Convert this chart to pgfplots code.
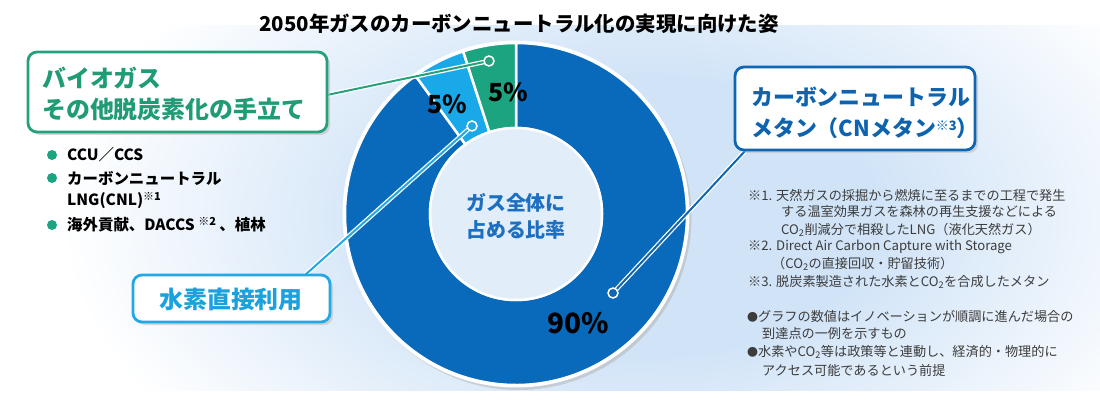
\documentclass[border=0pt]{standalone}
\usepackage{fontspec}
\setmainfont{Noto Sans CJK JP}
\usepackage{pgfplots}
\pgfplotsset{compat=1.18}
\usepackage{pgfplotstable}
\usetikzlibrary{calc}

\definecolor{cnblue}{HTML}{0969BA}
\definecolor{h2blue}{HTML}{19A9E8}
\definecolor{biogreen}{HTML}{1BA47F}
\definecolor{gbox}{HTML}{25A17B}
\definecolor{gtext}{HTML}{1F9C76}
\definecolor{bbox}{HTML}{0F66B2}
\definecolor{btext}{HTML}{0E63AF}
\definecolor{lbox}{HTML}{22A9E3}
\definecolor{ltext}{HTML}{1BA1DD}
\definecolor{ctext}{HTML}{1D6FC1}
\definecolor{bgblue}{HTML}{D0E3F7}
\definecolor{holec}{HTML}{E2EDFA}
\definecolor{notec}{HTML}{3C3C3C}

\pgfdeclareradialshading{bgrad}{\pgfpoint{0bp}{0bp}}{color(0bp)=(bgblue); color(10bp)=(bgblue); color(25bp)=(white); color(50bp)=(white)}

% shares of the total gas supply in 2050 (%)
\pgfplotstableread{
seg share
CN  90
H2  5
Bio 5
}\sharetable
\pgfplotstablegetelem{0}{share}\of\sharetable \let\sCN\pgfplotsretval
\pgfplotstablegetelem{1}{share}\of\sharetable \let\sH\pgfplotsretval
\pgfplotstablegetelem{2}{share}\of\sharetable \let\sBio\pgfplotsretval
\pgfmathsetmacro\aA{90}
\pgfmathsetmacro\aB{\aA+3.6*\sBio}
\pgfmathsetmacro\aC{\aB+3.6*\sH}
\pgfmathsetmacro\aD{\aC+3.6*\sCN}

\newcommand\donutwedge[3]{%
  \fill[#3,draw=white,line width=2.5bp] (axis cs:516,202) ++(#1:171bp)
    arc[start angle=#1,end angle=#2,radius=171bp]
    -- ($(axis cs:516,202)+(#2:86bp)$)
    arc[start angle=#2,end angle=#1,radius=86bp] -- cycle;}
\newcommand\fs[1]{\fontsize{#1}{#1}\selectfont}

\begin{document}
\begin{tikzpicture}
\begin{axis}[width=1100bp,height=416bp,scale only axis,
  xmin=0,xmax=1100,ymin=0,ymax=416,hide axis,clip=false]
% background
\fill[white] (axis cs:0,0) rectangle (axis cs:1100,416);
\begin{scope}
\clip (axis cs:0,26) rectangle (axis cs:1100,390);
\shade[shading=bgrad] (axis cs:640,200) ellipse[x radius=580bp,y radius=340bp];
\end{scope}
% title
\node[font=\fs{20.5}\bfseries,text=black,inner sep=0] at (axis cs:519,392) {2050年ガスのカーボンニュートラル化の実現に向けた姿};
% donut
\fill[black!30,opacity=0.5] (axis cs:518.5,199) circle[radius=173bp];
\fill[white] (axis cs:516,202) circle[radius=173.5bp];
\donutwedge{\aC}{\aD}{cnblue}
\donutwedge{\aB}{\aC}{h2blue}
\donutwedge{\aA}{\aB}{biogreen}
\fill[holec,draw=white,line width=2.5bp] (axis cs:516,202) circle[radius=86bp];
\node[font=\fs{20}\bfseries,text=ctext,align=center,inner sep=0] at (axis cs:516,213) {ガス全体に};
\node[font=\fs{20}\bfseries,text=ctext,align=center,inner sep=0] at (axis cs:516,186) {占める比率};
% percentages
\node[font=\fs{25}\bfseries,text=black,inner sep=0] at (axis cs:508,324) {5\%};
\node[font=\fs{25}\bfseries,text=black,inner sep=0] at (axis cs:447,312) {5\%};
\node[font=\fs{28}\bfseries,text=black,inner sep=0] at (axis cs:578,93) {90\%};
% connector lines
\draw[white,line width=4.5bp] (axis cs:327,321) -- (axis cs:489,355);
\draw[gbox,line width=2bp] (axis cs:327,321) -- (axis cs:489,355);
\fill[gbox,draw=white,line width=1.5bp] (axis cs:489,355) circle[radius=5bp];
\draw[white,line width=4.5bp] (axis cs:305,141) -- (axis cs:472,290);
\draw[lbox,line width=2bp] (axis cs:305,141) -- (axis cs:472,290);
\fill[lbox,draw=white,line width=1.5bp] (axis cs:472,290) circle[radius=5bp];
\draw[white,line width=4.5bp] (axis cs:746,266) -- (axis cs:613,123);
\draw[bbox,line width=2bp] (axis cs:746,266) -- (axis cs:613,123);
\fill[bbox,draw=white,line width=1.5bp] (axis cs:613,123) circle[radius=5bp];
% green box
\fill[black!25,opacity=0.6,rounded corners=9bp] (axis cs:31,281) rectangle (axis cs:330,361);
\draw[gbox,line width=2.8bp,fill=white,rounded corners=9bp] (axis cs:28,284) rectangle (axis cs:327,364);
\node[anchor=west,inner sep=0,font=\fs{24}\bfseries,text=gtext] at (axis cs:42,338) {バイオガス};
\node[anchor=west,inner sep=0,font=\fs{24}\bfseries,text=gtext] at (axis cs:42,307) {その他脱炭素化の手立て};
% light blue box
\fill[black!25,opacity=0.6,rounded corners=9bp] (axis cs:136,91) rectangle (axis cs:333,138);
\draw[lbox,line width=2.8bp,fill=white,rounded corners=9bp] (axis cs:133,94) rectangle (axis cs:330,141);
\node[inner sep=0,font=\fs{24}\bfseries,text=ltext] at (axis cs:231,117) {水素直接利用};
% blue box
\fill[black!25,opacity=0.6,rounded corners=9bp] (axis cs:738,263) rectangle (axis cs:978,346);
\draw[bbox,line width=2.8bp,fill=white,rounded corners=9bp] (axis cs:735,266) rectangle (axis cs:975,349);
\node[anchor=west,inner sep=0,font=\fs{22}\bfseries,text=btext] at (axis cs:751,319) {カーボンニュートラル};
\node[anchor=west,inner sep=0,font=\fs{22}\bfseries,text=btext] at (axis cs:751,288) {メタン（CNメタン\raisebox{0.5ex}{\fs{13}※3}）};
% bullet list
\fill[biogreen] (axis cs:52,261) circle[radius=5bp];
\fill[biogreen] (axis cs:52,238) circle[radius=5bp];
\fill[biogreen] (axis cs:52,191) circle[radius=5bp];
\node[anchor=west,inner sep=0,font=\fs{15.5}\bfseries] at (axis cs:67,261) {CCU／CCS};
\node[anchor=west,inner sep=0,font=\fs{15.5}\bfseries] at (axis cs:67,238) {カーボンニュートラル};
\node[anchor=west,inner sep=0,font=\fs{15.5}\bfseries] at (axis cs:67,215) {LNG(CNL)\raisebox{0.6ex}{\fs{11}※1}};
\node[anchor=west,inner sep=0,font=\fs{15.5}\bfseries] at (axis cs:67,191) {海外貢献、DACCS \raisebox{0.6ex}{\fs{11}※2} 、植林};
% notes
\node[anchor=west,inner sep=0,font=\fs{13.2},text=notec] at (axis cs:748,221) {※1. 天然ガスの採掘から燃焼に至るまでの工程で発生};
\node[anchor=west,inner sep=0,font=\fs{13.2},text=notec] at (axis cs:781,204) {する温室効果ガスを森林の再生支援などによる};
\node[anchor=west,inner sep=0,font=\fs{13.2},text=notec] at (axis cs:781,186) {CO\textsubscript{2}削減分で相殺したLNG（液化天然ガス）};
\node[anchor=west,inner sep=0,font=\fs{13.2},text=notec] at (axis cs:748,169) {※2. Direct Air Carbon Capture with Storage};
\node[anchor=west,inner sep=0,font=\fs{13.2},text=notec] at (axis cs:772,152) {（CO\textsubscript{2}の直接回収・貯留技術）};
\node[anchor=west,inner sep=0,font=\fs{13.2},text=notec] at (axis cs:748,134) {※3. 脱炭素製造された水素とCO\textsubscript{2}を合成したメタン};
\node[anchor=west,inner sep=0,font=\fs{13.2},text=notec] at (axis cs:747,99) {{\fs{11}●}グラフの数値はイノベーションが順調に進んだ場合の};
\node[anchor=west,inner sep=0,font=\fs{13.2},text=notec] at (axis cs:762,82) {到達点の一例を示すもの};
\node[anchor=west,inner sep=0,font=\fs{13.2},text=notec] at (axis cs:747,64) {{\fs{11}●}水素やCO\textsubscript{2}等は政策等と連動し、経済的・物理的に};
\node[anchor=west,inner sep=0,font=\fs{13.2},text=notec] at (axis cs:762,46) {アクセス可能であるという前提};
\end{axis}
\end{tikzpicture}
\end{document}
